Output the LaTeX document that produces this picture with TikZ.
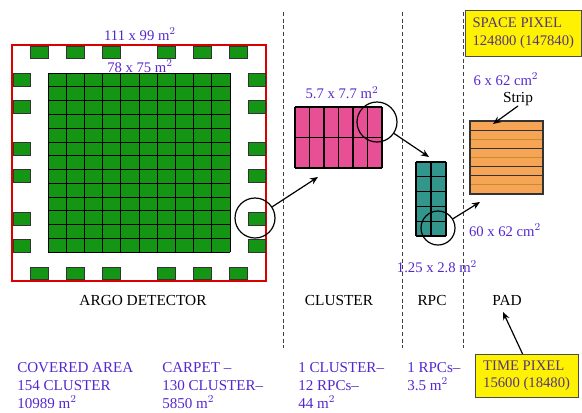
\documentclass[tikz,border=0pt]{standalone}
\usepackage{fontspec}
\setmainfont{Liberation Serif}
\usepackage{tikz}
\usetikzlibrary{shapes,arrows,arrows.meta,positioning}

\definecolor{dimblue}{RGB}{85,40,205}
\definecolor{carpetgreen}{RGB}{20,150,20}
\definecolor{clusterpink}{RGB}{232,80,150}
\definecolor{rpcteal}{RGB}{50,150,140}
\definecolor{padorange}{RGB}{245,165,85}
\definecolor{stripgold}{RGB}{200,140,40}
\definecolor{pixtext}{RGB}{85,55,125}

\begin{document}
\begin{tikzpicture}[
    x=0.75pt, y=-0.75pt,
    dimlabel/.style={text=dimblue, font=\fontsize{11}{13}\selectfont, inner sep=0pt},
    partlabel/.style={font=\fontsize{11.5}{13}\selectfont, inner sep=0pt},
    countlabel/.style={text=dimblue, font=\fontsize{11.3}{13.5}\selectfont, align=left, anchor=north west, inner sep=0pt},
    pixelbox/.style={draw=black!70, fill=yellow, text=pixtext, align=left, anchor=north west, font=\fontsize{11}{13}\selectfont, inner xsep=4pt, inner ysep=0pt},
    lens/.style={draw, circle, line width=0.9pt, inner sep=0pt},
    myedge/.style={->, >={Stealth[length=6pt,width=5pt]}, line width=0.9pt},
    divider/.style={densely dashed, gray!50!black, line width=0.6pt},
    tile/.style={fill=carpetgreen, draw=black!80, line width=0.4pt}
]
\useasboundingbox (0,0) rectangle (582,412);

% dividers between the panels
\foreach \xd in {283,402,463}
    \draw[divider] (\xd,12) -- (\xd,348);

% ARGO detector: carpet and guard ring
\draw[red!85!black, line width=1.1pt] (12,45) rectangle (266,281);
\fill[carpetgreen] (48,73) rectangle (230,252);
\foreach \i in {0,...,10}
    \draw[line width=0.5pt] (48+\i*18.2,73) -- (48+\i*18.2,252);
\foreach \j in {0,...,13}
    \draw[line width=0.5pt] (48,73+\j*13.77) -- (230,73+\j*13.77);
\foreach \xt in {30,66,102,157,193,229} {
    \draw[tile] (\xt,46) rectangle ++(18,12);
    \draw[tile] (\xt,267) rectangle ++(18,12);
}
\foreach \yt in {73,100,142,169,212,239} {
    \draw[tile] (13,\yt) rectangle ++(17,13);
    \draw[tile] (248,\yt) rectangle ++(17,13);
}

% cluster
\fill[clusterpink] (295,107) rectangle (382,168);
\foreach \i in {0,...,6}
    \draw[line width=0.8pt] (295+\i*14.5,107) -- (295+\i*14.5,168);
\foreach \j in {0,1,2}
    \draw[line width=0.8pt] (295,107+\j*30.5) -- (382,107+\j*30.5);

% rpc
\fill[rpcteal] (416,162) rectangle (446,236);
\foreach \i in {0,1,2}
    \draw[line width=0.8pt] (416+\i*15,162) -- (416+\i*15,236);
\foreach \j in {0,...,5}
    \draw[line width=0.8pt] (416,162+\j*14.8) -- (446,162+\j*14.8);

% pad with strips
\fill[padorange] (470,121) rectangle (543,194);
\foreach \j/\c in {1/black!80,2/stripgold,3/black!80,4/stripgold,5/black!80,6/black!80,7/stripgold}
    \draw[\c, line width=0.8pt] (470,121+\j*9.125) -- (543,121+\j*9.125);
\draw[line width=0.8pt, black!80] (470,121) rectangle (543,194);

% magnifying circles
\node[lens, minimum size=30pt] (lensA) at (255,218) {};
\node[lens, minimum size=30pt] (lensB) at (377,122) {};
\node[lens, minimum size=25.5pt] (lensC) at (438,228) {};

\coordinate (clusterIn) at (318,177);
\coordinate (rpcIn) at (429,157);
\coordinate (padIn) at (480,202);
\coordinate (stripIn) at (493,124);

% sizes
\node[dimlabel] (argoSize) at (140,34) {111 x 99 m$^2$};
\node[dimlabel] (carpetSize) at (140,66) {78 x 75 m$^2$};
\node[dimlabel] (clusterSize) at (342,93) {5.7 x 7.7 m$^2$};
\node[dimlabel] (rpcSize) at (437,267) {1.25 x 2.8 m$^2$};
\node[dimlabel] (stripSize) at (506,79) {6 x 62 cm$^2$};
\node[dimlabel] (padSize) at (505,230) {60 x 62 cm$^2$};
\node[partlabel] (strip) at (518,99) {Strip};

% panel names
\node[partlabel] (argo) at (143,300) {ARGO DETECTOR};
\node[partlabel] (cluster) at (339,300) {CLUSTER};
\node[partlabel] (rpc) at (432,300) {RPC};
\node[partlabel] (pad) at (507,300) {PAD};

% counts
\node[countlabel] (covered) at (17,362) {COVERED AREA\\154 CLUSTER\\10989 m$^2$};
\node[countlabel] (carpet) at (162,362) {CARPET --\\130 CLUSTER--\\5850 m$^2$};
\node[countlabel] (clusterCount) at (298,362) {1 CLUSTER--\\12 RPCs--\\44 m$^2$};
\node[countlabel] (rpcCount) at (407,362) {1 RPCs--\\3.5 m$^2$};

% pixels
\node[pixelbox, minimum width=87pt, minimum height=34.5pt] (spacePix) at (465,10) {SPACE PIXEL\\124800 (147840)};
\node[pixelbox, minimum width=77pt, minimum height=32pt] (timePix) at (475,354) {TIME PIXEL\\15600 (18480)};

\draw[myedge] (lensA) -- (clusterIn);
\draw[myedge] (lensB) -- (rpcIn);
\draw[myedge] (lensC) -- (padIn);
\draw[myedge] (strip.south) -- (stripIn);
\draw[myedge] ([xshift=-3pt]timePix.north) -- ([xshift=-3pt,yshift=-5pt]pad.south);
\end{tikzpicture}
\end{document}
